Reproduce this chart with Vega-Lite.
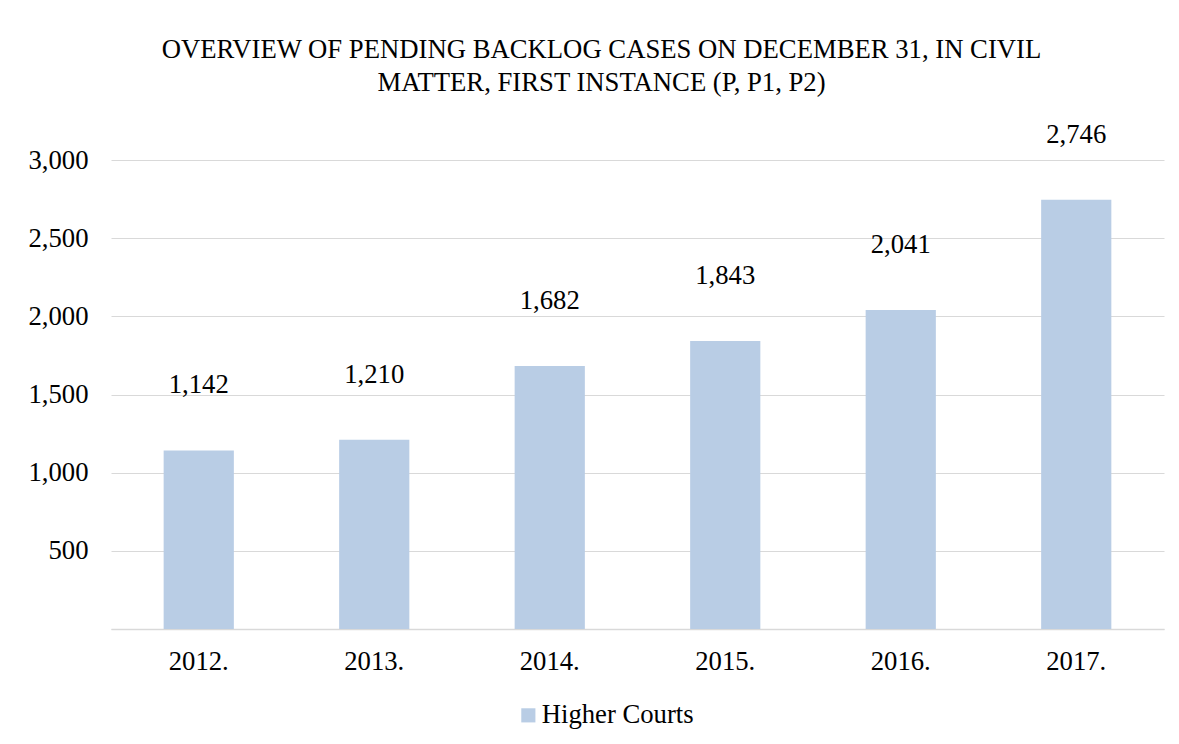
{
  "$schema": "https://vega.github.io/schema/vega-lite/v6.json",
  "width": 1053,
  "height": 469,
  "autosize": {"type": "none"},
  "padding": {"left": 111, "top": 160, "right": 15, "bottom": 115},
  "background": "white",
  "config": {
    "font": "Liberation Serif, Times New Roman, serif",
    "view": {"stroke": null}
  },
  "title": {
    "text": ["OVERVIEW OF PENDING BACKLOG CASES ON DECEMBER 31, IN CIVIL", "MATTER, FIRST INSTANCE (P, P1, P2)"],
    "font": "Liberation Serif, Times New Roman, serif",
    "fontSize": 26.7,
    "fontWeight": "normal",
    "color": "#000000",
    "anchor": "middle",
    "dx": -36,
    "offset": 25,
    "lineHeight": 33
  },
  "data": {
    "values": [
      {"year": "2012.", "cases": 1142, "series": "Higher Courts"},
      {"year": "2013.", "cases": 1210, "series": "Higher Courts"},
      {"year": "2014.", "cases": 1682, "series": "Higher Courts"},
      {"year": "2015.", "cases": 1843, "series": "Higher Courts"},
      {"year": "2016.", "cases": 2041, "series": "Higher Courts"},
      {"year": "2017.", "cases": 2746, "series": "Higher Courts"}
    ]
  },
  "encoding": {
    "x": {
      "field": "year",
      "type": "nominal",
      "scale": {"paddingInner": 0.6, "paddingOuter": 0.3},
      "axis": {
        "title": null,
        "labelAngle": 0,
        "labelFont": "Liberation Serif, Times New Roman, serif",
        "labelFontSize": 26.7,
        "labelColor": "#000000",
        "labelPadding": 19,
        "ticks": false,
        "domainColor": "#d9d9d9",
        "domainWidth": 1.5
      }
    },
    "y": {
      "field": "cases",
      "type": "quantitative",
      "scale": {"domain": [0, 3000], "nice": false},
      "axis": {
        "title": null,
        "values": [0, 500, 1000, 1500, 2000, 2500, 3000],
        "labelExpr": "datum.value == 0 ? '' : format(datum.value, ',')",
        "labelFont": "Liberation Serif, Times New Roman, serif",
        "labelFontSize": 26.7,
        "labelColor": "#000000",
        "labelPadding": 23,
        "ticks": false,
        "domain": false,
        "gridColor": "#d9d9d9",
        "gridWidth": 1
      }
    }
  },
  "layer": [
    {
      "mark": {"type": "bar", "color": "#b9cde5"},
      "encoding": {
        "color": {
          "field": "series",
          "type": "nominal",
          "scale": {"range": ["#b9cde5"]},
          "legend": {
            "title": null,
            "orient": "none",
            "legendX": 404,
            "legendY": 542,
            "symbolType": "square",
            "symbolSize": 200,
            "symbolStrokeWidth": 0,
            "symbolOpacity": 1,
            "labelFont": "Liberation Serif, Times New Roman, serif",
            "labelFontSize": 26.7,
            "labelColor": "#000000",
            "labelOffset": 0
          }
        }
      }
    },
    {
      "mark": {"type": "text", "font": "Liberation Serif, Times New Roman, serif", "fontSize": 26.7, "color": "#000000", "baseline": "alphabetic", "dy": -57},
      "encoding": {
        "text": {"field": "cases", "type": "quantitative", "format": ","}
      }
    }
  ]
}
